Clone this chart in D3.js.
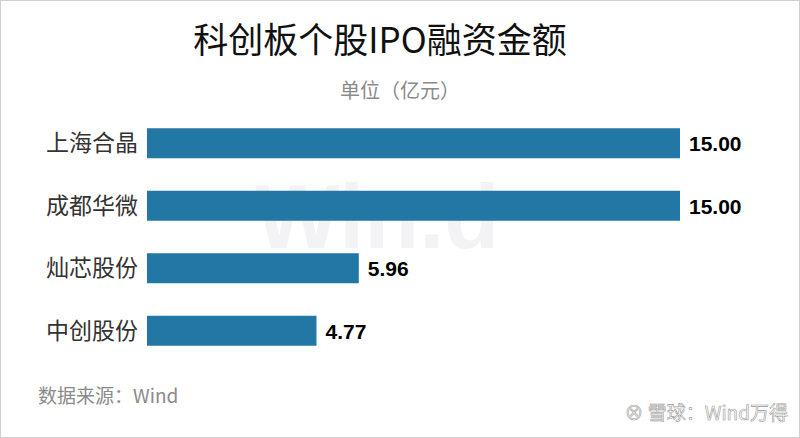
<!DOCTYPE html>
<html><head><meta charset="utf-8">
<script src="https://cdn.jsdelivr.net/npm/d3@7"></script>
<style>body{margin:0;background:#fff}svg{display:block;font-family:"Noto Sans CJK SC","Noto Sans",sans-serif}</style>
</head><body><div id="chart"></div>
<script>
var companies = ['上海合晶', '成都华微', '灿芯股份', '中创股份'];
var amounts = [15.00, 15.00, 5.96, 4.77];

var svg = d3.select('#chart').append('svg').attr('width', 800).attr('height', 438);
svg.append('rect').attr('x', 0.5).attr('y', 0.5).attr('width', 799).attr('height', 437)
	.attr('fill', '#fff').attr('stroke', '#d0d0d0');

svg.append('text').attr('x', 255).attr('y', 248).attr('font-size', 90).attr('font-weight', 'bold')
	.attr('fill', '#f3f3f5').attr('font-family', 'Liberation Sans, sans-serif').text('Win.d');

svg.append('text').attr('x', 380).attr('y', 53).attr('text-anchor', 'middle')
	.attr('font-size', 35).attr('fill', '#111').text('科创板个股IPO融资金额');
svg.append('text').attr('x', 400).attr('y', 98).attr('text-anchor', 'middle')
	.attr('font-size', 20).attr('fill', '#8a8a8a').text('单位（亿元）');

var x = d3.scaleLinear().domain([0, 15]).range([147, 680]);
var y = d3.scaleBand().domain(companies).range([112, 362]).paddingInner(0.52).paddingOuter(0.26);

var rows = svg.selectAll('g.row').data(companies).enter().append('g');
rows.append('rect').attr('x', x(0)).attr('y', function (d) { return y(d); })
	.attr('width', function (d, i) { return x(amounts[i]) - x(0); })
	.attr('height', y.bandwidth()).attr('fill', '#2277a4');
rows.append('text').attr('x', 138).attr('y', function (d) { return y(d) + y.bandwidth() / 2 + 8; })
	.attr('text-anchor', 'end').attr('font-size', 23).attr('fill', '#333').text(function (d) { return d; });
rows.append('text').attr('x', function (d, i) { return x(amounts[i]) + 9; })
	.attr('y', function (d) { return y(d) + y.bandwidth() / 2 + 8; })
	.attr('font-size', 21).attr('font-weight', 'bold').attr('fill', '#000')
	.attr('font-family', 'Liberation Sans, Arial, sans-serif')
	.text(function (d, i) { return amounts[i].toFixed(2); });

svg.append('text').attr('x', 38).attr('y', 403).attr('font-size', 19).attr('fill', '#8a8a8a').text('数据来源：Wind');
svg.append('text').attr('x', 788).attr('y', 420).attr('text-anchor', 'end').attr('font-size', 19)
	.attr('fill', '#fff').attr('stroke', '#999').attr('stroke-width', 0.6).text('⊗ 雪球：Wind万得');
</script></body></html>
